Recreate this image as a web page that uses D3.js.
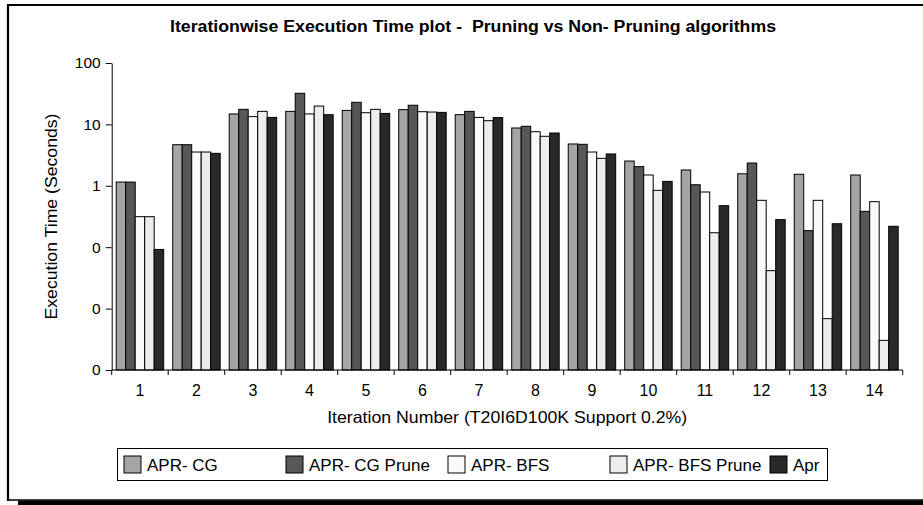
<!DOCTYPE html>
<html>
<head>
<meta charset="utf-8">
<script src="https://cdn.jsdelivr.net/npm/d3@7"></script>
<style>
  html, body { margin: 0; padding: 0; background: #fff; }
  svg { display: block; font-family: "Liberation Sans", Arial, sans-serif; }
</style>
</head>
<body>
<svg id="chart" width="923" height="505"></svg>
<script>
// Iteration numbers
const iterations = ["1","2","3","4","5","6","7","8","9","10","11","12","13","14"];
// Series names
const seriesNames = ["APR- CG", "APR- CG Prune", "APR- BFS", "APR- BFS Prune", "Apr"];
// Execution time in seconds per iteration, one array per algorithm
const aprCG       = [1.15, 4.67, 14.8, 16.3, 16.9, 17.4, 14.4, 8.74, 4.80, 2.53, 1.81, 1.57, 1.54, 1.50];
const aprCGPrune  = [1.15, 4.67, 17.6, 32.1, 22.9, 20.5, 16.3, 9.31, 4.74, 2.05, 1.04, 2.35, 0.186, 0.384];
const aprBFS      = [0.314, 3.55, 13.4, 14.8, 15.5, 16.1, 13.0, 7.60, 3.55, 1.50, 0.793, 0.580, 0.580, 0.552];
const aprBFSPrune = [0.314, 3.55, 16.3, 19.9, 17.6, 15.9, 11.5, 6.40, 2.80, 0.844, 0.172, 0.0415, 0.00686, 0.00304];
const apr         = [0.092, 3.38, 13.0, 14.4, 15.1, 15.7, 12.9, 7.24, 3.30, 1.18, 0.474, 0.281, 0.241, 0.219];
// Y axis ticks and their printed labels (whole-number format)
const yTickValues = [0.001, 0.01, 0.1, 1, 10, 100];
const yTickLabels = ["0", "0", "0", "1", "10", "100"];

const seriesValues = [aprCG, aprCGPrune, aprBFS, aprBFSPrune, apr];
const fills = ["#a5a5a5", "#575757", "#fafafa", "#ededed", "#292929"];

const svg = d3.select("#chart");
const font = "'Liberation Sans', Arial, sans-serif";

// Outer frame with a heavy bottom edge
svg.append("rect").attr("x", 0).attr("y", 0).attr("width", 923).attr("height", 505).attr("fill", "#fff");
svg.append("line").attr("x1", 8).attr("x2", 923).attr("y1", 5).attr("y2", 5).attr("stroke", "#000").attr("stroke-width", 2.2);
svg.append("line").attr("x1", 8).attr("x2", 8).attr("y1", 4).attr("y2", 501).attr("stroke", "#000").attr("stroke-width", 2.2);
svg.append("line").attr("x1", 7).attr("x2", 923).attr("y1", 500).attr("y2", 500).attr("stroke", "#000").attr("stroke-width", 1.5);
svg.append("rect").attr("x", 18).attr("y", 500.5).attr("width", 905).attr("height", 4.5).attr("fill", "#000");

const plot = { left: 111.7, right: 902.7, top: 63, bottom: 370 };

const x0 = d3.scaleBand().domain(iterations).range([plot.left, plot.right]).paddingInner(0).paddingOuter(0);
const groupW = x0.bandwidth() * 0.84;
const x1 = d3.scaleBand().domain(seriesNames).range([0, groupW]).padding(0);
const y = d3.scaleLog().domain([0.001, 100]).range([plot.bottom, plot.top]);

// Bars
const groups = svg.append("g").selectAll("g")
  .data(iterations)
  .join("g")
  .attr("transform", d => `translate(${x0(d) + (x0.bandwidth() - groupW) / 2},0)`);

groups.selectAll("rect")
  .data((d, i) => seriesNames.map((s, k) => ({ s, k, v: seriesValues[k][i] })))
  .join("rect")
  .attr("x", d => x1(d.s))
  .attr("width", x1.bandwidth())
  .attr("y", d => y(d.v))
  .attr("height", d => plot.bottom - y(d.v))
  .attr("fill", d => fills[d.k])
  .attr("stroke", "#000")
  .attr("stroke-width", 1);

// Y axis
const yAxis = d3.axisLeft(y)
  .tickValues(yTickValues)
  .tickFormat((d, i) => yTickLabels[i])
  .tickSizeInner(6).tickSizeOuter(0).tickPadding(5);
const gy = svg.append("g").attr("transform", `translate(${plot.left},0)`).call(yAxis);
gy.select(".domain").attr("stroke", "#000");
gy.selectAll(".tick line").attr("stroke", "#000");
gy.selectAll("text").attr("font-family", font).attr("font-size", 15.5).attr("fill", "#000");

// X axis: labels centred in each band, ticks on band boundaries
const gx = svg.append("g").attr("transform", `translate(0,${plot.bottom})`);
gx.append("line").attr("x1", plot.left).attr("x2", plot.right).attr("stroke", "#000");
const bounds = iterations.map(d => x0(d)).concat([plot.right]);
gx.selectAll(".bt").data(bounds).join("line")
  .attr("x1", d => d).attr("x2", d => d).attr("y1", 0).attr("y2", 5).attr("stroke", "#000");
gx.selectAll(".lbl").data(iterations).join("text")
  .attr("x", d => x0(d) + x0.bandwidth() / 2)
  .attr("y", 26)
  .attr("text-anchor", "middle")
  .attr("font-family", font).attr("font-size", 16)
  .text(d => d);

// Titles
svg.append("text").attr("x", 473).attr("y", 32).attr("text-anchor", "middle")
  .attr("font-family", font).attr("font-size", 16).attr("font-weight", "bold")
  .attr("textLength", 606).attr("lengthAdjust", "spacingAndGlyphs")
  .style("white-space", "pre")
  .text("Iterationwise Execution Time plot -  Pruning vs Non- Pruning algorithms");
svg.append("text").attr("x", (plot.left + plot.right) / 2).attr("y", 423).attr("text-anchor", "middle")
  .attr("font-family", font).attr("font-size", 16.5)
  .attr("textLength", 360).attr("lengthAdjust", "spacingAndGlyphs")
  .text("Iteration Number (T20I6D100K Support 0.2%)");
svg.append("text").attr("transform", `translate(57,${(plot.top + plot.bottom) / 2}) rotate(-90)`)
  .attr("text-anchor", "middle")
  .attr("font-family", font).attr("font-size", 16.5)
  .attr("textLength", 206).attr("lengthAdjust", "spacingAndGlyphs")
  .text("Execution Time (Seconds)");

// Legend
const legend = svg.append("g");
legend.append("rect").attr("x", 117.5).attr("y", 448.5).attr("width", 710).attr("height", 32)
  .attr("fill", "#fff").attr("stroke", "#000").attr("stroke-width", 1);
const legendX = [124, 286, 448, 610, 770];
const items = legend.selectAll(".item").data(seriesNames).join("g")
  .attr("transform", (d, i) => `translate(${legendX[i]},456)`);
items.append("rect").attr("width", 17).attr("height", 17)
  .attr("fill", (d, i) => fills[i]).attr("stroke", "#000");
items.append("text").attr("x", 23).attr("y", 14.5)
  .attr("font-family", font).attr("font-size", 17)
  .text(d => d);
</script>
</body>
</html>
